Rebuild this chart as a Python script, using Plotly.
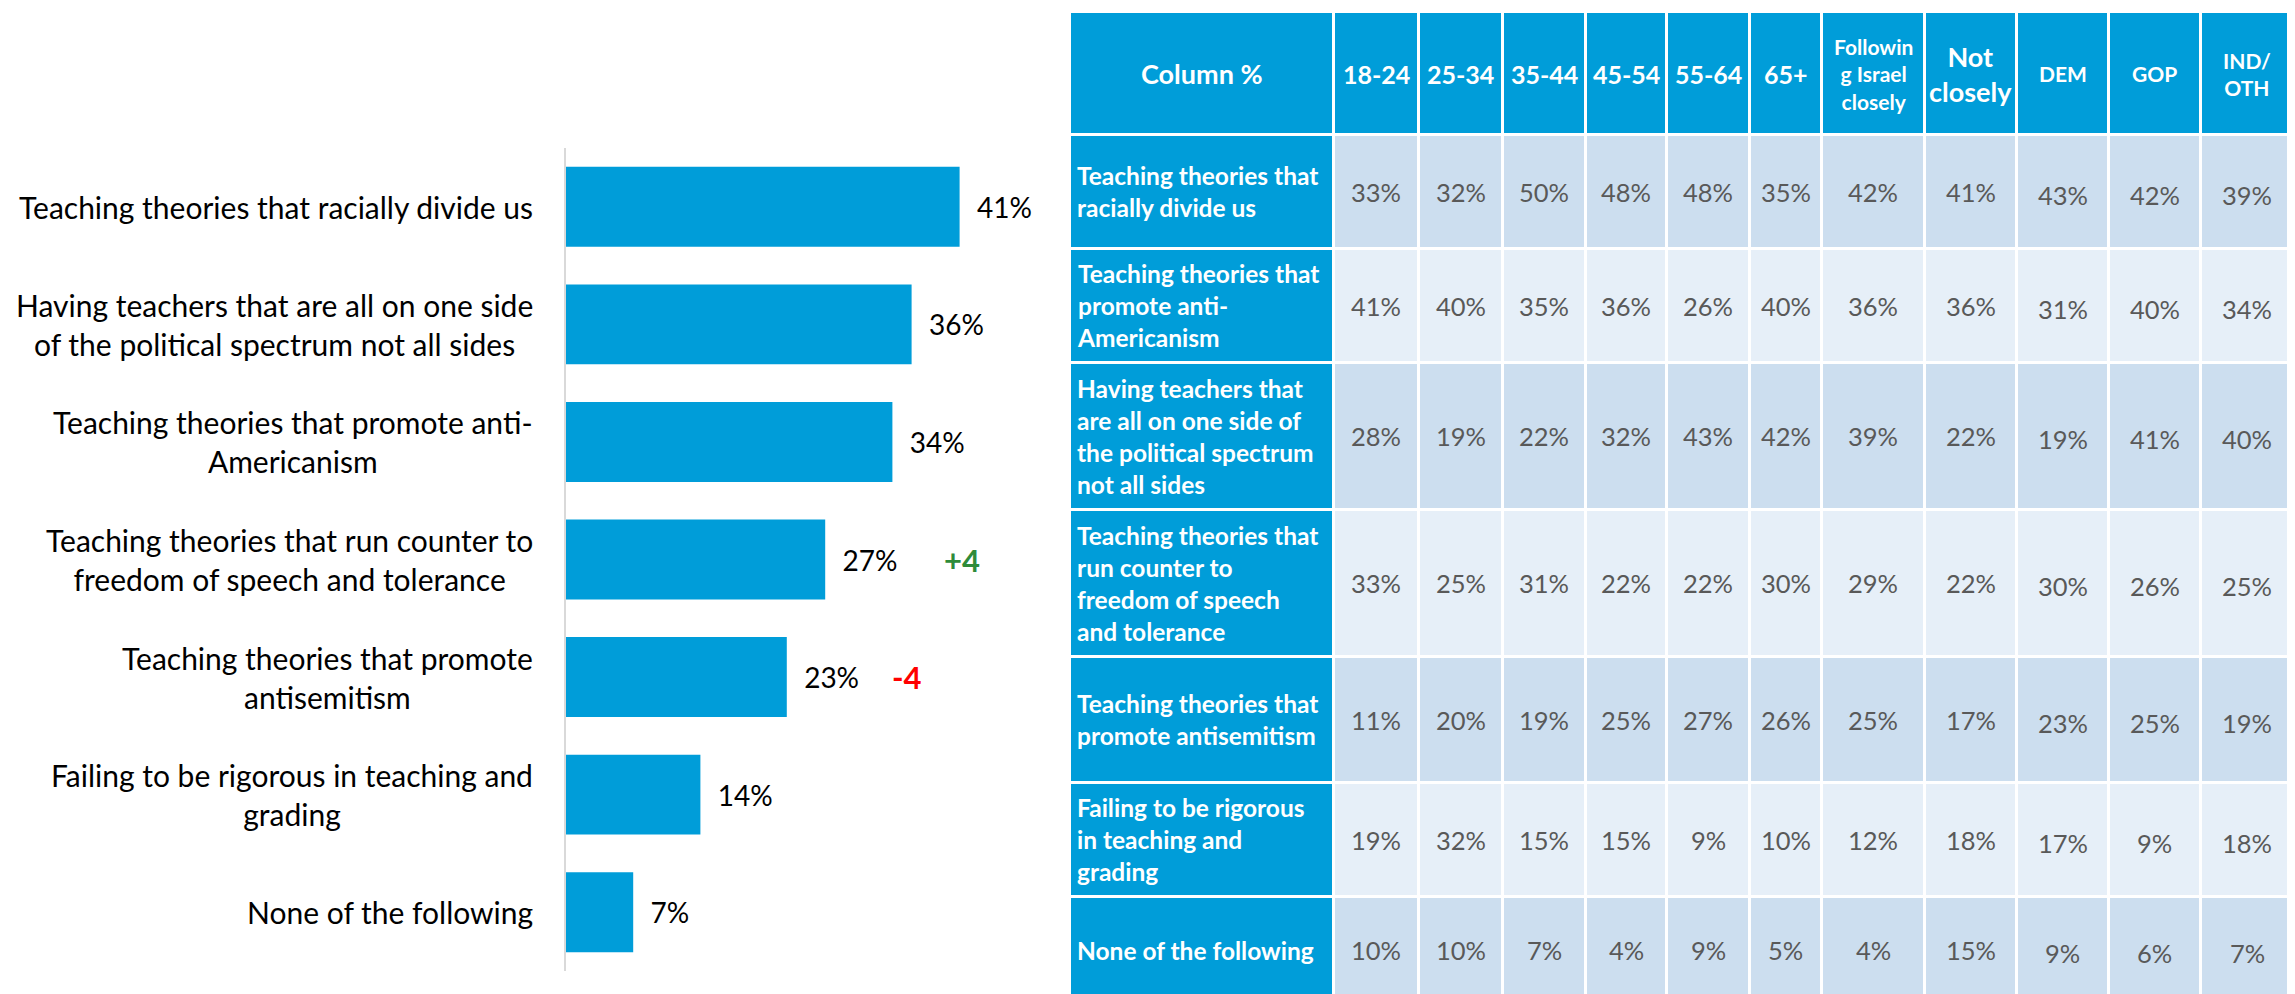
import plotly.graph_objects as go

# ---------------- data ----------------
bar_labels = [
    "Teaching theories that racially divide us",
    "Having teachers that are all on one side<br>of the political spectrum not all sides",
    "Teaching theories that promote anti-<br>Americanism",
    "Teaching theories that run counter to<br>freedom of speech and tolerance",
    "Teaching theories that promote<br>antisemitism",
    "Failing to be rigorous in teaching and<br>grading",
    "None of the following",
]
bar_values = [41, 36, 34, 27, 23, 14, 7]
bar_changes = ["", "", "", "+4", "-4", "", ""]

table_header = ["Column %", "18-24", "25-34", "35-44", "45-54", "55-64", "65+",
                "Followin<br>g Israel<br>closely", "Not<br>closely", "DEM", "GOP", "IND/<br>OTH"]
table_rows = [
    "Teaching theories that<br>racially divide us",
    "Teaching theories that<br>promote anti-<br>Americanism",
    "Having teachers that<br>are all on one side of<br>the political spectrum<br>not all sides",
    "Teaching theories that<br>run counter to<br>freedom of speech<br>and tolerance",
    "Teaching theories that<br>promote antisemitism",
    "Failing to be rigorous<br>in teaching and<br>grading",
    "None of the following",
]
age_18_24 = [33, 41, 28, 33, 11, 19, 10]
age_25_34 = [32, 40, 19, 25, 20, 32, 10]
age_35_44 = [50, 35, 22, 31, 19, 15, 7]
age_45_54 = [48, 36, 32, 22, 25, 15, 4]
age_55_64 = [48, 26, 43, 22, 27, 9, 9]
age_65_plus = [35, 40, 42, 30, 26, 10, 5]
following_closely = [42, 36, 39, 29, 25, 12, 4]
not_closely = [41, 36, 22, 22, 17, 18, 15]
dem = [43, 31, 19, 30, 23, 17, 9]
gop = [42, 40, 41, 26, 25, 9, 6]
ind_oth = [39, 34, 40, 25, 19, 18, 7]

# ---------------- styles / layout ----------------
W, H = 2295, 994
BLUE = "#009DD9"
DARK = "#CCDEEF"
LIGHT = "#E6EFF8"
GRAY = "#595959"
FONT = "Lato"

# table grid (pixel units of the table axes)
col_widths = [263.5, 85.5, 83.5, 83, 81, 83, 72.5, 102.5, 92, 92, 92, 93.5]
row_heights = [123, 113.5, 114.5, 146.5, 147, 126, 114.5, 106]
TABLE_LEFT, TABLE_TOP = 1062, 4
header_sizes = [27, 25, 25, 25, 25, 25, 25, 21, 27, 21, 21, 21]
CHANGE_SHIFT = {"+": 117, "-": 103}

fig = go.Figure()

# ---------------- bar chart ----------------
fig.add_trace(go.Bar(
    x=bar_values, y=bar_labels, orientation="h",
    marker=dict(color=BLUE, line=dict(width=0)),
    width=0.68,
    texttemplate="\u00a0\u00a0%{x}%",
    textposition="outside",
    constraintext="none",
    cliponaxis=False,
    outsidetextfont=dict(family=FONT, size=28, color="#000000"),
    hoverinfo="skip",
))

for lab in bar_labels:
    fig.add_annotation(x=0, y=lab, xref="x", yref="y", text=lab, showarrow=False,
                       xanchor="right", align="center", xshift=-31,
                       font=dict(family=FONT, size=30, color="#000000"))

for lab, v, ch in zip(bar_labels, bar_values, bar_changes):
    if ch:
        col = "#2E8B3A" if ch.startswith("+") else "#FF0000"
        fig.add_annotation(x=v, y=lab, xref="x", yref="y", text="<b>" + ch + "</b>",
                           showarrow=False, xanchor="left", xshift=CHANGE_SHIFT[ch[0]],
                           font=dict(family=FONT, size=31, color=col))

# ---------------- table (heatmap cells + text) ----------------
data_cols = [age_18_24, age_25_34, age_35_44, age_45_54, age_55_64, age_65_plus,
             following_closely, not_closely, dem, gop, ind_oth]
ncol = len(table_header)
nrow = len(table_rows)

x_edges = [TABLE_LEFT]
for w in col_widths:
    x_edges.append(x_edges[-1] + w)
y_edges = [TABLE_TOP]
for h in row_heights:
    y_edges.append(y_edges[-1] + h)
x_mid = [(a + b) / 2 for a, b in zip(x_edges[:-1], x_edges[1:])]
y_mid = [(a + b) / 2 for a, b in zip(y_edges[:-1], y_edges[1:])]

# 0 = blue, 1 = dark stripe, 2 = light stripe
z = [[0] * ncol]
for r in range(nrow):
    z.append([0] + [1 if r % 2 == 0 else 2] * (ncol - 1))

fig.add_trace(go.Heatmap(
    x=x_edges, y=y_edges, z=z, xaxis="x2", yaxis="y2",
    colorscale=[[0, BLUE], [0.5, DARK], [1, LIGHT]], zmin=0, zmax=2,
    showscale=False, xgap=3, ygap=3, hoverinfo="skip",
))

# header text
for c, h in enumerate(table_header):
    fig.add_annotation(x=x_mid[c], y=y_mid[0], xref="x2", yref="y2",
                       text="<b>" + h + "</b>", showarrow=False,
                       xanchor="center", yanchor="middle", align="center",
                       font=dict(family=FONT, size=header_sizes[c], color="white"))

# row labels
for r, lab in enumerate(table_rows):
    fig.add_annotation(x=x_edges[0] + 5, y=y_mid[r + 1], xref="x2", yref="y2",
                       text="<b>" + lab + "</b>", showarrow=False,
                       xanchor="left", yanchor="middle", align="left",
                       font=dict(family=FONT, size=24.5, color="white"))

# data values
for c, col in enumerate(data_cols):
    for r, v in enumerate(col):
        fig.add_annotation(x=x_mid[c + 1], y=y_mid[r + 1], xref="x2", yref="y2",
                           text=f"{v}%", showarrow=False,
                           xanchor="center", yanchor="middle",
                           yshift=-3 if c >= 8 else 0,
                           font=dict(family=FONT, size=25.5, color=GRAY))

fig.update_layout(
    width=W, height=H,
    margin=dict(l=0, r=0, t=0, b=0),
    paper_bgcolor="white", plot_bgcolor="white",
    showlegend=False,
    xaxis=dict(domain=[558 / W, (558 + 48 * 9.6) / W], range=[0, 48],
               visible=False, fixedrange=True),
    yaxis=dict(domain=[1 - 963 / H, 1 - 140 / H], range=[len(bar_labels) - 0.5, -0.5],
               showticklabels=False, ticks="", showgrid=False, zeroline=False,
               showline=True, linecolor="#D9D9D9", linewidth=2, fixedrange=True),
    xaxis2=dict(domain=[x_edges[0] / W, x_edges[-1] / W], range=[x_edges[0], x_edges[-1]],
                visible=False, fixedrange=True, anchor="y2"),
    yaxis2=dict(domain=[0, 1], range=[H, 0], visible=False, fixedrange=True, anchor="x2"),
)

fig.write_html("out.html")
